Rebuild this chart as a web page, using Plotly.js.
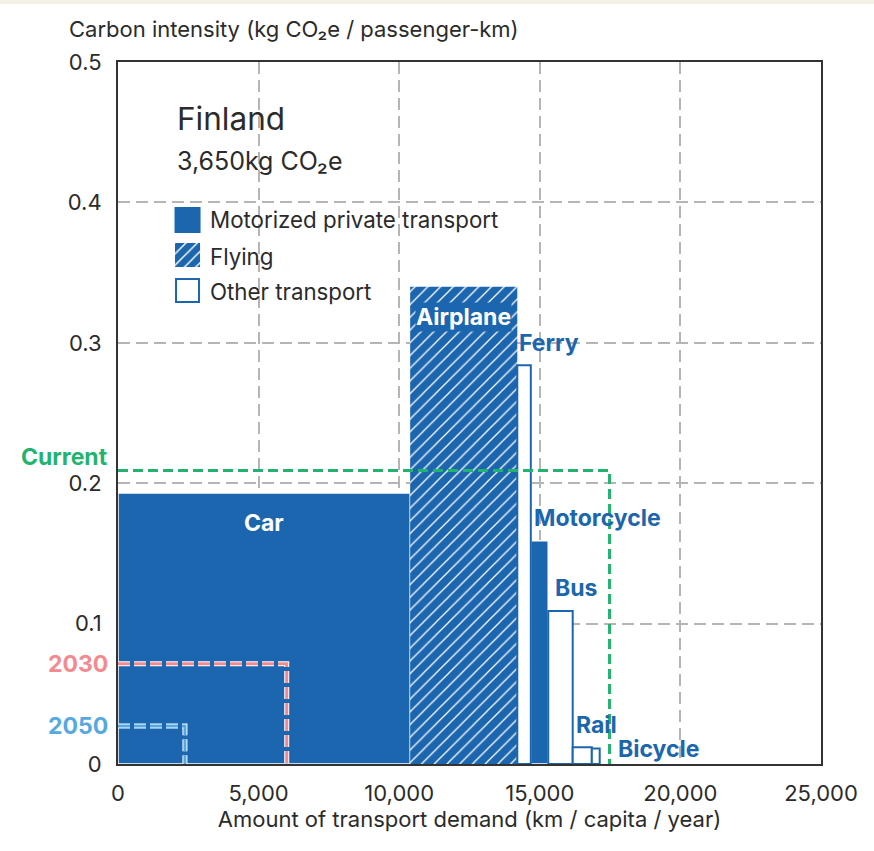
<!DOCTYPE html>
<html>
<head>
<meta charset="utf-8">
<script src="https://cdn.plot.ly/plotly-3.0.1.min.js"></script>
<style>
  html, body { margin: 0; padding: 0; background: #ffffff; }
  #chart { width: 874px; height: 851px; }
</style>
</head>
<body>
<div id="chart"></div>
<script>
// ---- Data ----
const modes      = ['Car', 'Airplane', 'Ferry', 'Motorcycle', 'Bus', 'Rail', 'Bicycle'];
const modeGroup  = ['private', 'flying', 'other', 'private', 'other', 'other', 'other'];
const demandKm   = [10390, 3810, 480, 620, 870, 680, 280];          // km / capita / year
const intensity  = [0.193, 0.340, 0.284, 0.159, 0.109, 0.012, 0.011]; // kg CO2e / pkm

const currentDemand = 17480, currentIntensity = 0.209;
const target2030Demand = 6000, target2030Intensity = 0.0714;
const target2050Demand = 2380, target2050Intensity = 0.027;

const xTicks = [0, 5000, 10000, 15000, 20000, 25000];
const yTicks = [0, 0.1, 0.2, 0.3, 0.4, 0.5];

const countryName = 'Finland';
const countryTotal = '3,650kg CO₂e';
const legendNames = ['Motorized private transport', 'Flying', 'Other transport'];

// ---- Styles ----
const BLUE = '#1b66ae';
const GREEN = '#22b46f';
const PINK = '#f28a90';
const LIGHTBLUE = '#55a9e0';
const FONT = 'Inter, "Noto Sans", sans-serif';
const TXT = '#2b2b2b';

// cumulative positions
const starts = [];
let acc = 0;
for (let i = 0; i < demandKm.length; i++) { starts.push(acc); acc += demandKm[i]; }
const centers = starts.map((s, i) => s + demandKm[i] / 2);

function pick(group) {
  const idx = modes.map((_, i) => i).filter(i => modeGroup[i] === group);
  return {
    x: idx.map(i => centers[i]),
    y: idx.map(i => intensity[i]),
    width: idx.map(i => demandKm[i])
  };
}

const pPriv = pick('private'), pFly = pick('flying'), pOther = pick('other');

const traces = [
  { type: 'bar', x: pPriv.x, y: pPriv.y, width: pPriv.width, base: 0, name: legendNames[0],
    marker: { color: BLUE, line: { color: '#ffffff', width: 1.5 } }, showlegend: false, hoverinfo: 'skip' },
  { type: 'bar', x: pFly.x, y: pFly.y, width: pFly.width, base: 0, name: legendNames[1],
    marker: { color: BLUE, line: { color: '#ffffff', width: 0 },
      pattern: { shape: '/', bgcolor: BLUE, fgcolor: '#ffffff', size: 9, solidity: 0.14, fillmode: 'replace' } },
    showlegend: false, hoverinfo: 'skip' },
  { type: 'bar', x: pOther.x, y: pOther.y, width: pOther.width, base: 0, name: legendNames[2],
    marker: { color: '#ffffff', line: { color: BLUE, width: 2 } }, showlegend: false, hoverinfo: 'skip' },
  // current (green)
  { type: 'scatter', mode: 'lines', x: [0, currentDemand, currentDemand], y: [currentIntensity, currentIntensity, 0],
    line: { color: GREEN, width: 3, dash: '10px,5px' }, showlegend: false, hoverinfo: 'skip' },
  // 2030
  { type: 'scatter', mode: 'lines', x: [0, target2030Demand, target2030Demand], y: [target2030Intensity, target2030Intensity, 0],
    line: { color: '#ffffff', width: 5, dash: '12px,4px' }, showlegend: false, hoverinfo: 'skip' },
  { type: 'scatter', mode: 'lines', x: [0, target2030Demand, target2030Demand], y: [target2030Intensity, target2030Intensity, 0],
    line: { color: PINK, width: 3, dash: '12px,4px' }, showlegend: false, hoverinfo: 'skip' },
  // 2050
  { type: 'scatter', mode: 'lines', x: [0, target2050Demand, target2050Demand], y: [target2050Intensity, target2050Intensity, 0],
    line: { color: '#ffffff', width: 5, dash: '12px,4px' }, showlegend: false, hoverinfo: 'skip' },
  { type: 'scatter', mode: 'lines', x: [0, target2050Demand, target2050Demand], y: [target2050Intensity, target2050Intensity, 0],
    line: { color: LIGHTBLUE, width: 3, dash: '12px,4px' }, showlegend: false, hoverinfo: 'skip' },
  // legend swatches on an overlay pixel axis (0..702 x 0..702)
  { type: 'bar', xaxis: 'x2', yaxis: 'y2', x: [69.5], y: [26], base: [531], width: [26],
    marker: { color: BLUE, line: { width: 0 } }, showlegend: false, hoverinfo: 'skip' },
  { type: 'bar', xaxis: 'x2', yaxis: 'y2', x: [69.5], y: [24], base: [497], width: [25],
    marker: { color: BLUE, line: { width: 0 },
      pattern: { shape: '/', bgcolor: BLUE, fgcolor: '#ffffff', size: 8, solidity: 0.18, fillmode: 'replace' } },
    showlegend: false, hoverinfo: 'skip' },
  { type: 'bar', xaxis: 'x2', yaxis: 'y2', x: [69.5], y: [23], base: [462], width: [23],
    marker: { color: '#ffffff', line: { color: BLUE, width: 2 } }, showlegend: false, hoverinfo: 'skip' }
];

// label placement styles (pixel offsets)
const labelStyle = {
  Car:        { inside: true },
  Airplane:   { inside: true, bg: true },
  Ferry:      { xshift: 0, yshift: 6 },
  Motorcycle: { xshift: 1, yshift: 7 },
  Bus:        { xshift: 5, yshift: 7 },
  Rail:       { xshift: 1, yshift: 6 },
  Bicycle:    { xshift: 16, yshift: -1, afterBar: true }
};
const LABEL_SIZE = 23;

const annotations = [];
modes.forEach((m, i) => {
  const st = labelStyle[m];
  if (st.inside) {
    annotations.push({ x: centers[i], y: intensity[i], xref: 'x', yref: 'y', text: '<b>' + m + '</b>',
      showarrow: false, xanchor: 'center', yanchor: 'middle', yshift: -30,
      bgcolor: st.bg ? BLUE : 'rgba(0,0,0,0)', borderpad: 0,
      font: { family: FONT, size: LABEL_SIZE, color: '#ffffff' } });
  } else if (st.afterBar) {
    annotations.push({ x: starts[i] + demandKm[i], y: 0, xref: 'x', yref: 'y', text: '<b>' + m + '</b>',
      showarrow: false, xanchor: 'left', yanchor: 'bottom', xshift: st.xshift, yshift: st.yshift,
      font: { family: FONT, size: LABEL_SIZE, color: BLUE } });
  } else {
    annotations.push({ x: starts[i], y: intensity[i], xref: 'x', yref: 'y', text: '<b>' + m + '</b>',
      showarrow: false, xanchor: 'left', yanchor: 'bottom', xshift: st.xshift, yshift: st.yshift,
      font: { family: FONT, size: LABEL_SIZE, color: BLUE } });
  }
});

// scenario labels
annotations.push({ x: 0, y: currentIntensity, xref: 'x', yref: 'y', text: '<b>Current</b>', showarrow: false,
  xanchor: 'right', yanchor: 'middle', xshift: -8, yshift: 14, font: { family: FONT, size: 23, color: GREEN } });
annotations.push({ x: 0, y: target2030Intensity, xref: 'x', yref: 'y', text: '<b>2030</b>', showarrow: false,
  xanchor: 'right', yanchor: 'middle', xshift: -8, font: { family: FONT, size: 23, color: PINK } });
annotations.push({ x: 0, y: target2050Intensity, xref: 'x', yref: 'y', text: '<b>2050</b>', showarrow: false,
  xanchor: 'right', yanchor: 'middle', xshift: -8, font: { family: FONT, size: 23, color: LIGHTBLUE } });

// header texts
annotations.push({ x: 0.0810, y: 0.919, xref: 'paper', yref: 'paper', text: countryName, showarrow: false,
  xanchor: 'left', yanchor: 'middle', font: { family: FONT, size: 31.5, color: TXT } });
annotations.push({ x: 0.0810, y: 0.859, xref: 'paper', yref: 'paper', text: countryTotal, showarrow: false,
  xanchor: 'left', yanchor: 'middle', font: { family: FONT, size: 25, color: TXT } });
const legY = [0.776, 0.723, 0.673];
legendNames.forEach((n, i) => {
  annotations.push({ x: 0.1285, y: legY[i], xref: 'paper', yref: 'paper', text: n, showarrow: false,
    xanchor: 'left', yanchor: 'middle', font: { family: FONT, size: 22.3, color: TXT } });
});
// y axis title (horizontal, top-left)
annotations.push({ x: -0.0725, y: 1.047, xref: 'paper', yref: 'paper',
  text: 'Carbon intensity (kg CO₂e / passenger-km)', showarrow: false,
  xanchor: 'left', yanchor: 'middle', font: { family: FONT, size: 22, color: TXT } });

const layout = {
  width: 874, height: 851,
  margin: { l: 118, r: 53, t: 62, b: 87 },
  paper_bgcolor: '#ffffff', plot_bgcolor: '#ffffff',
  font: { family: FONT, color: TXT },
  barmode: 'overlay',
  showlegend: false,
  xaxis: {
    range: [0, 25000], tickvals: xTicks, tickformat: ',',
    showgrid: true, gridcolor: '#b5b5b5', gridwidth: 2, griddash: '12px,6px',
    showline: true, mirror: true, linecolor: '#333333', linewidth: 2, zeroline: false,
    ticks: 'outside', ticklen: 9, tickcolor: 'rgba(0,0,0,0)',
    tickfont: { family: FONT, size: 22, color: TXT },
    title: { text: 'Amount of transport demand (km / capita / year)', standoff: 3,
      font: { family: FONT, size: 22, color: TXT } },
    fixedrange: true, automargin: false
  },
  yaxis: {
    range: [0, 0.5], tickvals: yTicks,
    showgrid: true, gridcolor: '#b5b5b5', gridwidth: 2, griddash: '12px,6px',
    showline: true, mirror: true, linecolor: '#333333', linewidth: 2, zeroline: false,
    ticks: 'outside', ticklen: 10, tickcolor: 'rgba(0,0,0,0)',
    tickfont: { family: FONT, size: 22, color: TXT },
    fixedrange: true, automargin: false
  },
  xaxis2: { overlaying: 'x', range: [0, 702.7], visible: false, fixedrange: true },
  yaxis2: { overlaying: 'y', range: [0, 702], visible: false, fixedrange: true },
  shapes: [
    // white box behind header/legend (hides grid lines)
    { type: 'rect', xref: 'paper', yref: 'paper', x0: 0.053, x1: 0.38, y0: 0.654, y1: 0.953,
      fillcolor: '#ffffff', line: { width: 0 }, layer: 'between' },
    // thin beige strip at the very top of the page
    { type: 'rect', xref: 'paper', yref: 'paper', x0: -0.2, x1: 1.1, y0: (764 - 4) / 702, y1: 764 / 702 + 0.01,
      fillcolor: '#f4f0e6', line: { width: 0 }, layer: 'below' }
  ],
  annotations: annotations
};

Plotly.newPlot('chart', traces, layout, { displayModeBar: false, staticPlot: true });
</script>
</body>
</html>
